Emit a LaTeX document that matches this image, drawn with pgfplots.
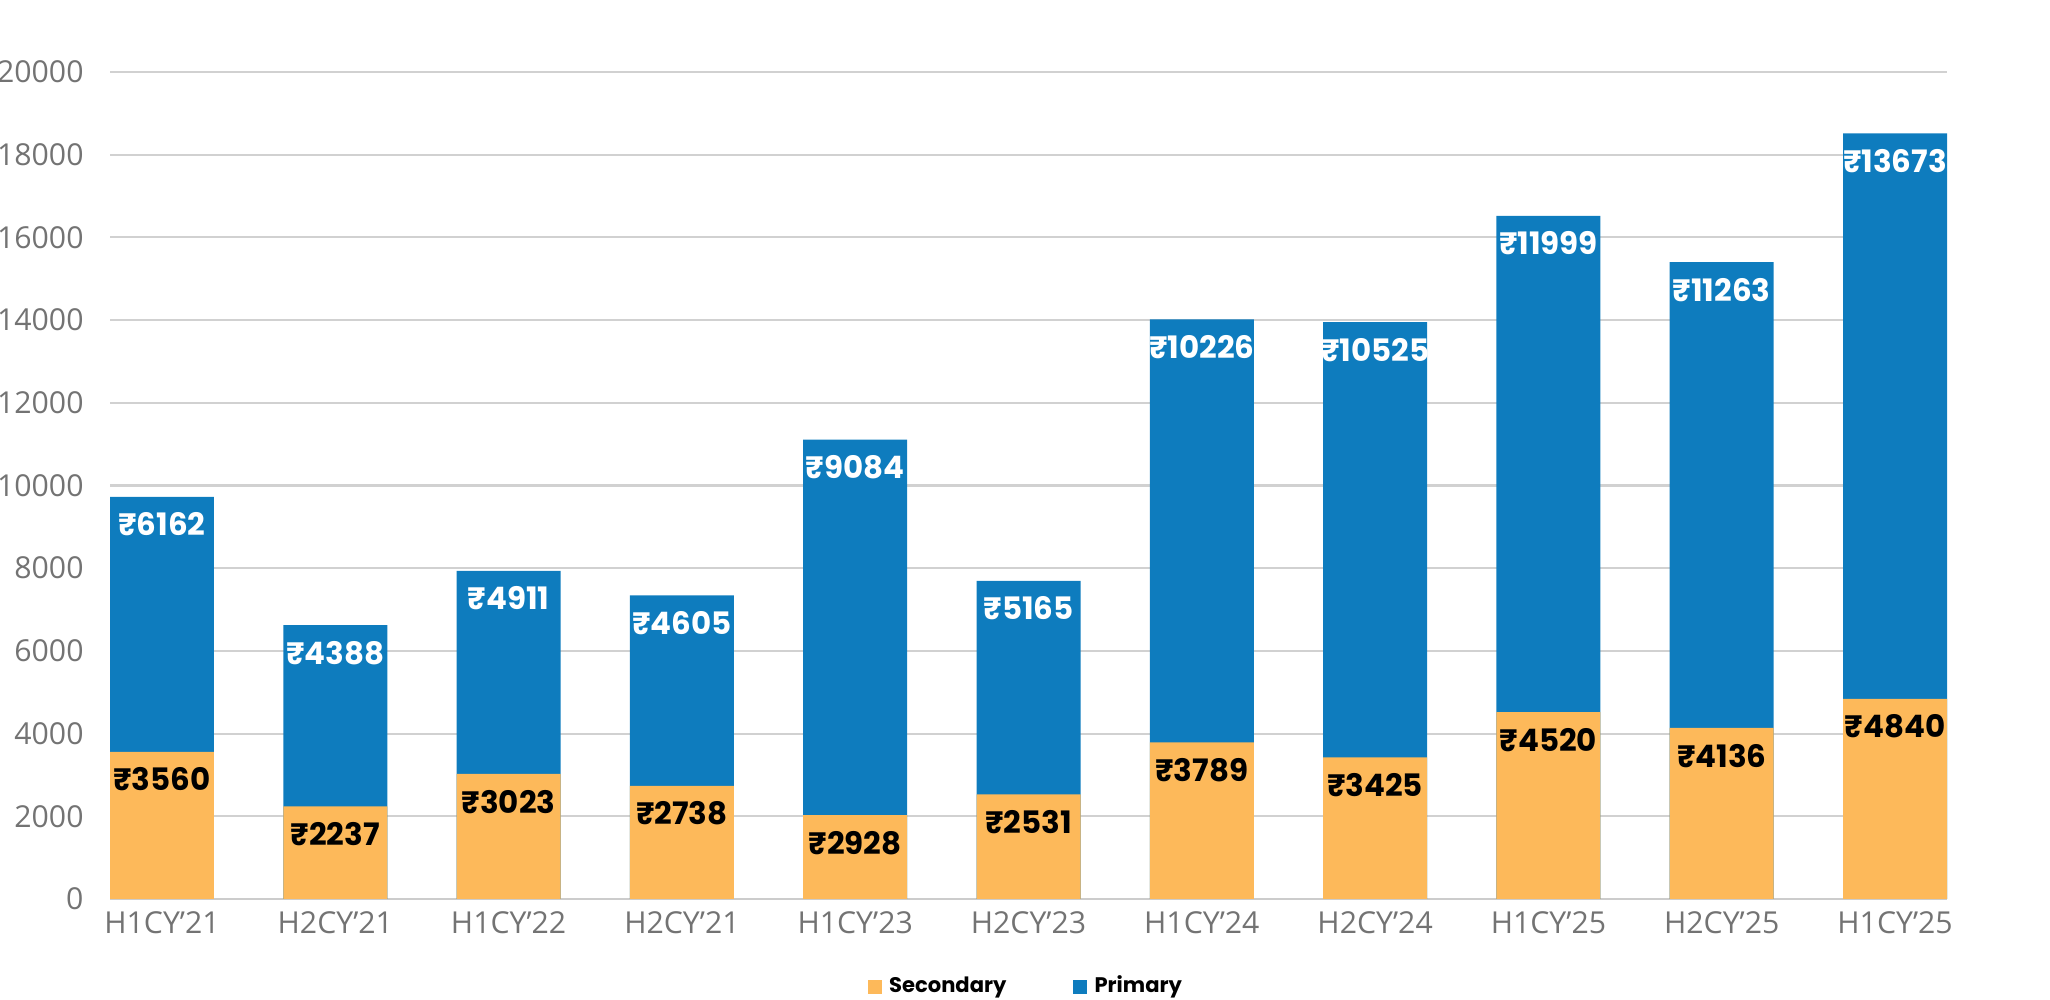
\documentclass[border=0pt]{standalone}
\usepackage{pgfplots}
\pgfplotsset{compat=1.18}
\usepackage{fontspec}
\setmainfont{Open Sans}
\newfontfamily\pop{Poppins}
\definecolor{sec}{HTML}{FDB95A}
\definecolor{pri}{HTML}{0E7CBE}
\begin{document}
\begin{tikzpicture}
\useasboundingbox (-1.62,-1.01) rectangle (18.88,8.99);
\begin{axis}[
  at={(0,0)}, anchor=origin,
  scale only axis, width=18.37cm, height=8.27cm,
  ybar, bar width=1.04cm, bar shift=0pt,
  xmin=-0.3, xmax=10.3, ymin=0, ymax=20000,
  ytick={0,2000,...,20000},
  scaled y ticks=false,
  xtick={0,...,10},
  xticklabels={H1CY'21,H2CY'21,H1CY'22,H2CY'21,H1CY'23,H2CY'23,H1CY'24,H2CY'24,H1CY'25,H2CY'25,H1CY'25},
  /pgf/number format/assume math mode=true,
  /pgf/number format/1000 sep={},
  tick label style={font=\fontsize{8.6}{10}\selectfont, text=black!55},
  yticklabel style={xshift=-4pt},
  axis line style={draw=none},
  axis x line*=bottom,
  x axis line style={draw=black!20},
  major tick length=0pt,
  ymajorgrids, grid style={black!18, line width=0.6pt},
  ylabel={\pop\fontsize{6}{7}\selectfont ₹}, ylabel style={text=black!70},
  every axis y label/.style={at={(-0.074,0.5)}, rotate=90, anchor=center},
  nodes near coords, point meta=explicit symbolic,
  every node near coord/.append style={anchor=north, yshift=-1pt, font=\pop\bfseries\fontsize{8.8}{10}\selectfont},
  legend style={at={(0.5,-0.075)}, anchor=north, draw=none, legend columns=2, fill=none,
    font=\pop\bfseries\fontsize{6}{7}\selectfont, /tikz/every even column/.append style={column sep=0.6cm}},
  legend image code/.code={\fill[#1] (0cm,-0.07cm) rectangle (0.14cm,0.07cm);},
]
\addplot[fill=pri, draw=none, forget plot, every node near coord/.append style={text=white}] coordinates {
(0,9722)[₹6162] (1,6625)[₹4388] (2,7934)[₹4911] (3,7343)[₹4605] (4,11112)[₹9084] (5,7696)[₹5165]
(6,14015)[₹10226] (7,13950)[₹10525] (8,16519)[₹11999] (9,15399)[₹11263] (10,18513)[₹13673]};
\addplot[fill=sec, draw=none, every node near coord/.append style={text=black}] coordinates {
(0,3560)[₹3560] (1,2237)[₹2237] (2,3023)[₹3023] (3,2738)[₹2738] (4,2028)[₹2928] (5,2531)[₹2531]
(6,3789)[₹3789] (7,3425)[₹3425] (8,4520)[₹4520] (9,4136)[₹4136] (10,4840)[₹4840]};
\addlegendentry{Secondary}
\addlegendimage{fill=pri, draw=none}
\addlegendentry{Primary}
\end{axis}
\end{tikzpicture}
\end{document}
